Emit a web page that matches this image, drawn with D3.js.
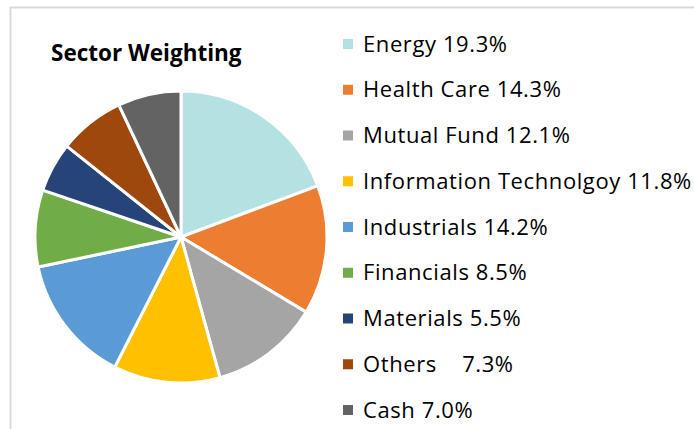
<!DOCTYPE html>
<html>
<head>
<meta charset="utf-8">
<script src="https://cdn.jsdelivr.net/npm/d3@7"></script>
<style>
  body { margin: 0; background: #fff; }
  text { font-family: "Open Sans", sans-serif; }
</style>
</head>
<body>
<div id="chart"></div>
<script>
// data -----------------------------------------------------------------------
const sectors = ['Energy', 'Health Care', 'Mutual Fund', 'Information Technolgoy', 'Industrials',
  'Financials', 'Materials', 'Others', 'Cash'];
const weights = [19.3, 14.3, 12.1, 11.8, 14.2, 8.5, 5.5, 7.3, 7.0];
const legendLabels = ['Energy 19.3%', 'Health Care 14.3%', 'Mutual Fund 12.1%',
  'Information Technolgoy 11.8%', 'Industrials 14.2%', 'Financials 8.5%',
  'Materials 5.5%', 'Others\u00a0\u00a0\u00a0 7.3%', 'Cash 7.0%'];
const colors = ['#b4e2e3', '#ed7d31', '#a5a5a5', '#ffc000', '#5b9bd5', '#70ad47', '#264478', '#9e480e', '#636363'];
const title = 'Sector Weighting';

// svg ------------------------------------------------------------------------
const width = 694;
const height = 429;
const svg = d3.select('#chart').append('svg')
  .attr('width', width)
  .attr('height', height);

// chart frame (only left and top edges are in view)
svg.append('rect')
  .attr('x', 10.5).attr('y', 7.5)
  .attr('width', 720).attr('height', 440)
  .attr('fill', 'none')
  .attr('stroke', '#d9d9d9')
  .attr('stroke-width', 2);

svg.append('text')
  .attr('x', 51).attr('y', 61)
  .attr('font-size', '22.5px')
  .attr('font-weight', 'bold')
  .attr('fill', '#000')
  .text(title);

// pie ------------------------------------------------------------------------
const data = sectors.map((s, i) => ({name: s, value: weights[i]}));
const color = d3.scaleOrdinal().domain(sectors).range(colors);
const radius = 146;
const g = svg.append('g')
  .attr('transform', 'translate(181,237)');
const pie = d3.pie()
  .value(d => d.value)
  .sort(null);
const arc = d3.arc()
  .outerRadius(radius)
  .innerRadius(0);
g.selectAll('.pie')
  .data(pie(data))
  .enter()
  .append('path')
  .attr('class', 'pie')
  .attr('d', arc)
  .attr('fill', d => color(d.data.name))
  .attr('stroke', '#fff')
  .attr('stroke-width', 3)
  .attr('stroke-linejoin', 'round');

// legend ---------------------------------------------------------------------
const y = d3.scalePoint()
  .domain(sectors)
  .range([44, 410]);
const legend = svg.selectAll('.legend')
  .data(sectors)
  .enter()
  .append('g')
  .attr('class', 'legend')
  .attr('transform', d => 'translate(343,' + y(d) + ')');
legend.append('rect')
  .attr('x', 0).attr('y', -5)
  .attr('width', 10).attr('height', 10)
  .attr('fill', d => color(d));
legend.append('text')
  .attr('x', 20)
  .attr('dy', '0.35em')
  .attr('font-size', '22px')
  .attr('letter-spacing', '0.6px')
  .attr('fill', '#000')
  .text((d, i) => legendLabels[i]);
</script>
</body>
</html>
